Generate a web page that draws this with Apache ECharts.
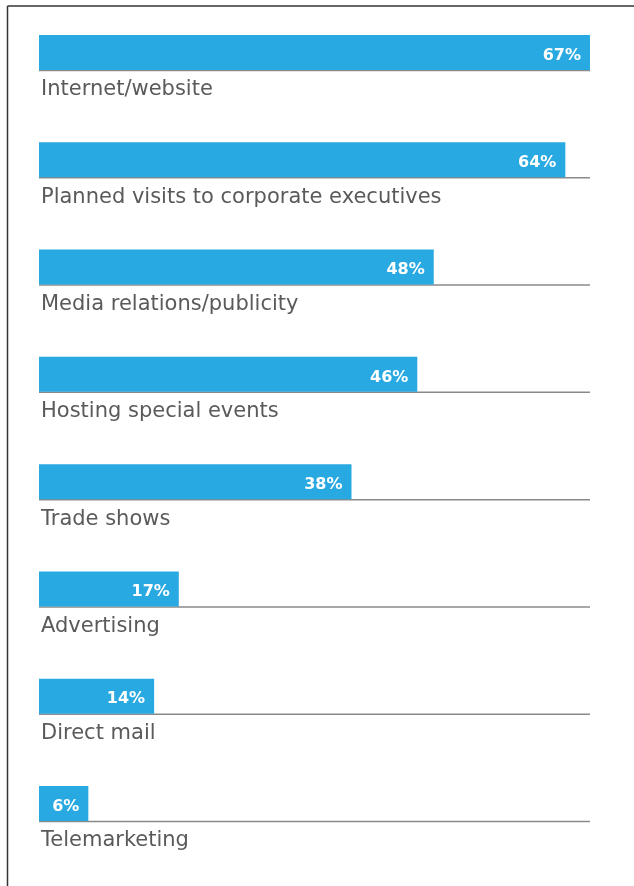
<!DOCTYPE html>
<html lang="en">
<head>
  <meta charset="UTF-8">
  <title>Marketing channels</title>
  <script src="https://cdn.jsdelivr.net/npm/echarts@6/dist/echarts.min.js"></script>
  <style>
    html, body { margin: 0; padding: 0; background: #fff; }
    #chart { width: 634px; height: 886px; }
  </style>
</head>
<body>
  <div id="chart"></div>
<script>
  // data
  let categories = ["Internet/website", "Planned visits to corporate executives", "Media relations/publicity",
    "Hosting special events", "Trade shows", "Advertising", "Direct mail", "Telemarketing"];
  let values = [67, 64, 48, 46, 38, 17, 14, 6];
  let axisMax = 67;

  let myCharts = echarts.init(document.getElementById("chart"));

  // bar sits above the band centre, baseline at centre, name below
  function renderItem(params, api) {
    let idx = api.value(0);
    let v = api.value(1);
    let start = api.coord([0, idx]);
    let end = api.coord([v, idx]);
    let full = api.coord([axisMax, idx]);
    let barH = 35;
    let y = start[1];
    return {
      type: 'group',
      children: [
        {
          type: 'line',
          shape: { x1: start[0], y1: y + 0.5, x2: full[0], y2: y + 0.5 },
          style: { stroke: '#8a8a8a', lineWidth: 1.5 }
        },
        {
          type: 'rect',
          shape: { x: start[0], y: y - barH, width: end[0] - start[0], height: barH },
          style: { fill: '#29a9e1' }
        },
        {
          type: 'text',
          style: {
            x: end[0] - 9, y: y - barH / 2 + 3,
            text: v + '%', fill: '#fff', align: 'right', verticalAlign: 'middle',
            font: 'bold 16px "DejaVu Sans"'
          }
        },
        {
          type: 'text',
          style: {
            x: start[0] + 2, y: y + 20,
            text: categories[idx], fill: '#5a5a5a', align: 'left', verticalAlign: 'middle',
            font: '21px "DejaVu Sans"'
          }
        }
      ]
    };
  }

  let option = {
    animation: false,
    grid: { left: 39, right: 44, top: 16.35, height: 858.3 },
    xAxis: { type: 'value', min: 0, max: axisMax, show: false },
    yAxis: { type: 'category', data: categories, inverse: true, show: false },
    graphic: [
      { type: 'line', shape: { x1: 7.5, y1: 6, x2: 634, y2: 6 }, style: { stroke: '#333', lineWidth: 1.5 } },
      { type: 'line', shape: { x1: 7.5, y1: 6, x2: 7.5, y2: 886 }, style: { stroke: '#333', lineWidth: 1.5 } }
    ],
    series: [{
      type: 'custom',
      renderItem: renderItem,
      encode: { x: 1, y: 0 },
      data: values.map((v, i) => [i, v])
    }]
  };
  myCharts.setOption(option);
</script>
</body>
</html>
